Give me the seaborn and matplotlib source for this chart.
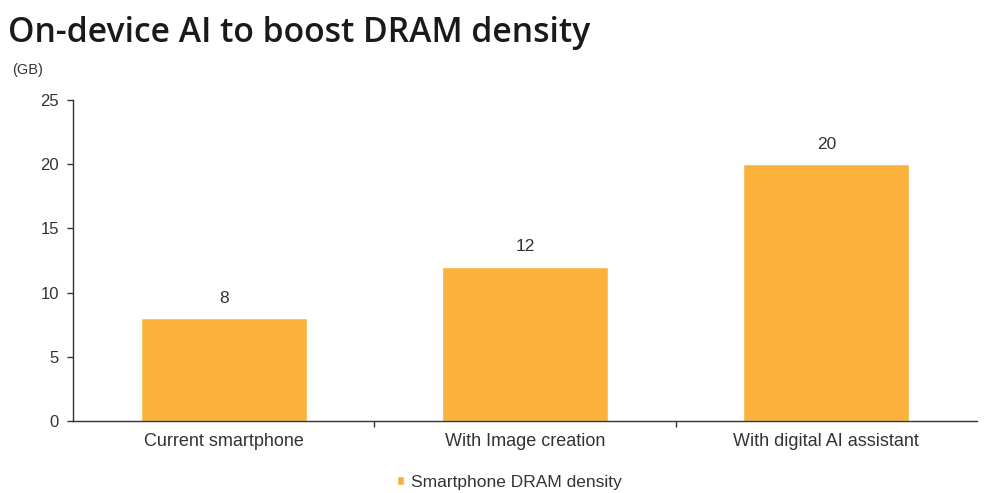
import matplotlib
matplotlib.use("Agg")
import matplotlib.pyplot as plt
import seaborn as sns
import pandas as pd

categories = ["Current smartphone", "With Image creation", "With digital AI assistant"]
dram_gb = [8, 12, 20]
series_name = "Smartphone DRAM density"
y_ticks = [0, 5, 10, 15, 20, 25]

sns.set_theme(style="white")
plt.rcParams["font.family"] = ["Liberation Sans", "DejaVu Sans"]

df = pd.DataFrame({"category": categories, "value": dram_gb, "series": series_name})

fig = plt.figure(figsize=(9.89, 4.93), dpi=100)
ax = fig.add_axes([73 / 989, 1 - 421 / 493, 904 / 989, 321 / 493])

bar_color = "#FAB23C"
sns.barplot(data=df, x="category", y="value", hue="series", palette=[bar_color],
            width=0.55, ax=ax, saturation=1)

ax.set_xlim(-0.5, 2.5)
ax.set_ylim(0, 25)
ax.set_yticks(y_ticks)
ax.set_xlabel("")
ax.set_ylabel("")

for spine in ["top", "right"]:
    ax.spines[spine].set_visible(False)
for spine in ["left", "bottom"]:
    ax.spines[spine].set_color("#333333")
    ax.spines[spine].set_linewidth(1.0)

# y ticks point outward on the left; x ticks sit at category boundaries
ax.tick_params(axis="y", which="major", direction="out", length=4, width=1,
               color="#333333", labelsize=12, labelcolor="#333333", pad=6, left=True)
ax.tick_params(axis="x", which="major", length=0, labelsize=13,
               labelcolor="#333333", pad=9)
ax.set_xticks([0.5, 1.5], minor=True)
ax.tick_params(axis="x", which="minor", direction="out", length=4, width=1,
               color="#333333", bottom=True)

for container in ax.containers:
    ax.bar_label(container, labels=[str(v) for v in dram_gb], padding=9,
                 fontsize=12.5, color="#333333")

# legend centred under the plot
leg = ax.legend(loc="center", bbox_to_anchor=(509 / 989, 1 - 482 / 493),
                bbox_transform=fig.transFigure, frameon=False, borderpad=0,
                fontsize=12.5, handlelength=0.45, handleheight=0.45,
                handletextpad=0.35, labelcolor="#333333")

fig.text(8 / 989, 1 - 33 / 493, "On-device AI to boost DRAM density",
         fontsize=24.3, fontweight="semibold", color="#1a1a1a", va="center", ha="left",
         family=["Open Sans", "DejaVu Sans"])
fig.text(12 / 989, 1 - 70 / 493, "(GB)", fontsize=10.5, color="#333333",
         va="center", ha="left")

fig.savefig("out.png", dpi=100, facecolor="white")
